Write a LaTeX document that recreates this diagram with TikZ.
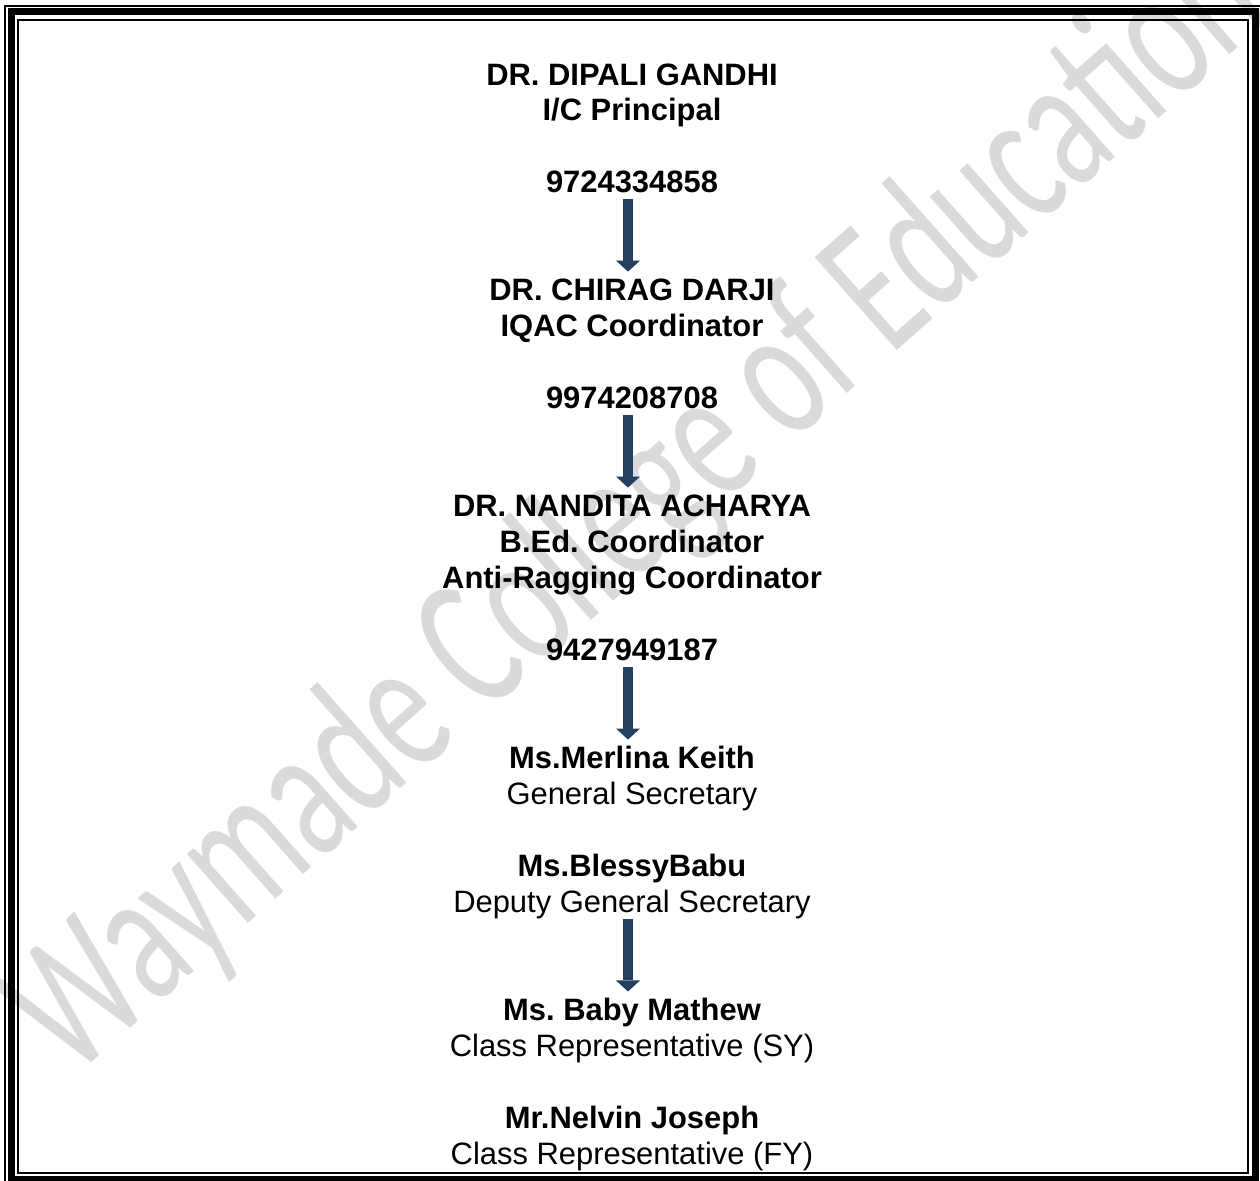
\documentclass[tikz,border=0pt]{standalone}
\usepackage{fontspec}
\setmainfont{Liberation Sans}
\newfontfamily\wmfont{Carlito}
\usetikzlibrary{arrows.meta,positioning}
\definecolor{arrowblue}{HTML}{243F60}
\definecolor{wmgray}{HTML}{DADADA}
\frenchspacing

\begin{document}
\begin{tikzpicture}[x=0.02cm,y=0.02cm,node distance=0.72cm,
    line/.style={inner sep=0pt,text height=16.5pt,text depth=3.4pt,font=\fontsize{17.6}{21}\selectfont},
    head/.style={line,font=\fontsize{17.6}{21}\selectfont\bfseries},
    link/.style={draw=arrowblue,line width=0.2cm,-{Triangle[width=0.48cm,length=0.22cm,line width=0pt]}}]
    \useasboundingbox (0,0) rectangle (1260,-1180);
    \clip (0,0) rectangle (1260,-1180);

    % watermark
    \node[text=wmgray,font=\wmfont\fontsize{110}{110}\selectfont,rotate=41.5,xscale=0.66] (mark) at (640,-510) {Waymade College of Education};

    % page border
    \draw[line width=0.04cm] (5,-5.8) rectangle (1261.5,-1186);
    \draw[line width=0.14cm] (11.5,-11.8) rectangle (1255.5,-1179.5);
    \draw[line width=0.04cm] (17.8,-19.8) rectangle (1248.3,-1172.8);

    \node[head,anchor=base] (gandhi) at (632,-85) {DR. DIPALI GANDHI};
    \node[head] (gandhirole) [below of=gandhi] {I/C Principal};
    \node[head,node distance=1.44cm] (gandhitel) [below of=gandhirole] {9724334858};

    \node[head,node distance=2.16cm] (darji) [below of=gandhitel] {DR. CHIRAG DARJI};
    \node[head] (darjirole) [below of=darji] {IQAC Coordinator};
    \node[head,node distance=1.44cm] (darjitel) [below of=darjirole] {9974208708};

    \node[head,node distance=2.16cm] (acharya) [below of=darjitel] {DR. NANDITA ACHARYA};
    \node[head] (acharyarole) [below of=acharya] {B.Ed. Coordinator};
    \node[head] (acharyarole2) [below of=acharyarole] {Anti-Ragging Coordinator};
    \node[head,node distance=1.44cm] (acharyatel) [below of=acharyarole2] {9427949187};

    \node[head,node distance=2.16cm] (keith) [below of=acharyatel] {Ms.Merlina Keith};
    \node[line] (keithrole) [below of=keith] {General Secretary};
    \node[head,node distance=1.44cm] (babu) [below of=keithrole] {Ms.BlessyBabu};
    \node[line] (baburole) [below of=babu] {Deputy General Secretary};

    \node[head,node distance=2.16cm] (mathew) [below of=baburole] {Ms. Baby Mathew};
    \node[line] (mathewrole) [below of=mathew] {Class Representative (SY)};
    \node[head,node distance=1.44cm] (joseph) [below of=mathewrole] {Mr.Nelvin Joseph};
    \node[line] (josephrole) [below of=joseph] {Class Representative (FY)};

    \draw[link] ([xshift=-0.08cm]gandhitel.south) -- ([xshift=-0.08cm]darji.north);
    \draw[link] ([xshift=-0.08cm]darjitel.south) -- ([xshift=-0.08cm]acharya.north);
    \draw[link] ([xshift=-0.08cm]acharyatel.south) -- ([xshift=-0.08cm]keith.north);
    \draw[link] ([xshift=-0.08cm]baburole.south) -- ([xshift=-0.08cm]mathew.north);
\end{tikzpicture}
\end{document}
